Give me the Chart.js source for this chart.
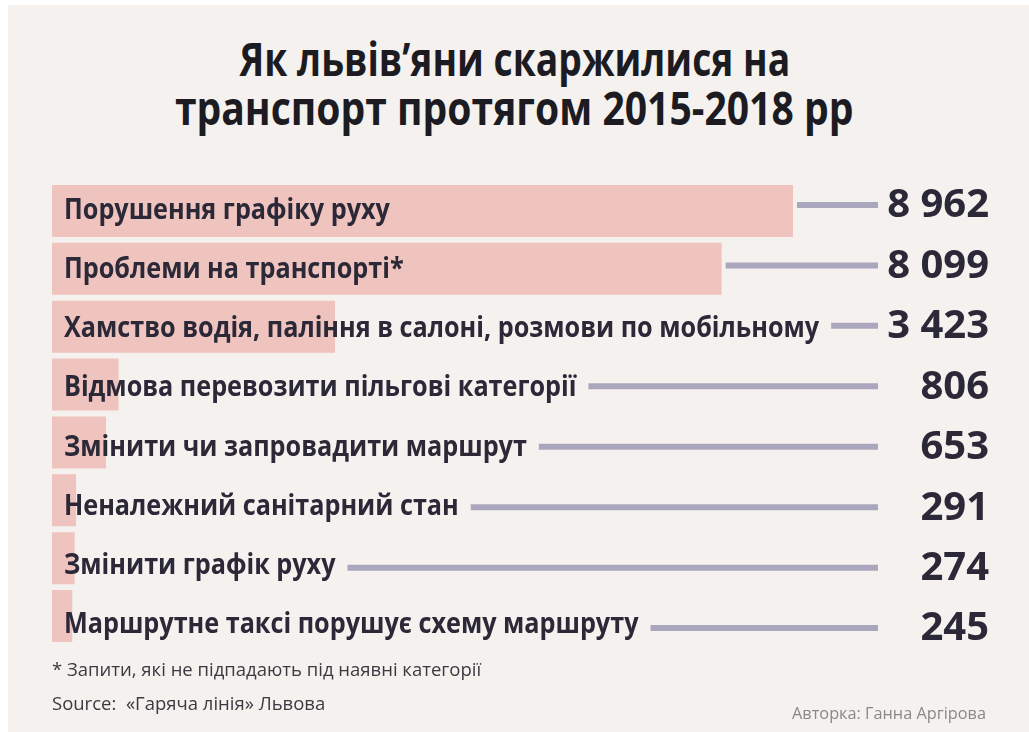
<!DOCTYPE html>
<html lang="uk">
<head>
<meta charset="utf-8">
<title>Скарги львів'ян на транспорт</title>
<script src="https://cdn.jsdelivr.net/npm/chart.js@4.4.1/dist/chart.umd.min.js"></script>
<style>
  html, body { margin: 0; padding: 0; background: #fff; }
  body {
    width: 1029px; height: 732px; position: relative; overflow: hidden;
    font-family: "Open Sans", sans-serif; color: #2b2838;
  }
  .panel { position: absolute; left: 8px; top: 5px; right: 0; bottom: 0; background: #f4f1ee; }
  .title { position: absolute; left: 0; width: 1029px; text-align: center; }
  .title span {
    display: inline-block; font-weight: 700; font-size: 46px; line-height: 1;
    color: #1c1b22; transform-origin: center; white-space: nowrap;
  }
  .note { position: absolute; left: 52px; font-size: 18.5px; color: #3b3a40; white-space: nowrap; }
  .author { position: absolute; right: 43px; top: 702px; font-size: 16.3px; color: #8a8888; }
  canvas { position: absolute; left: 0; top: 0; }
</style>
</head>
<body>
<div class="panel"></div>
<div class="title" style="top:35px"><span style="transform:scaleX(0.81)">Як львів’яни скаржилися на</span></div>
<div class="title" style="top:84px"><span style="transform:scaleX(0.85)">транспорт протягом 2015-2018 рр</span></div>
<canvas id="complaintsChart" width="1029" height="732"></canvas>
<div class="note" style="top:656px">* Запити, які не підпадають під наявні категорії</div>
<div class="note" style="top:690px">Source:&nbsp; «Гаряча лінія» Львова</div>
<div class="author">Авторка: Ганна Аргірова</div>

<script>
// Категорії скарг і кількість звернень за 2015-2018
const categories = [
  'Порушення графіку руху',
  'Проблеми на транспорті*',
  'Хамство водія, паління в салоні, розмови по мобільному',
  'Відмова перевозити пільгові категорії',
  'Змінити чи запровадити маршрут',
  'Неналежний санітарний стан',
  'Змінити графік руху',
  'Маршрутне таксі порушує схему маршруту'
];
const counts = [8962, 8099, 3423, 806, 653, 291, 274, 245];

const BAR_COLOR = '#efc3be';
const LINE_COLOR = '#aaa6bd';
const TEXT_COLOR = '#2b2838';

// 8962 -> "8 962"
function formatCount(v) {
  return String(v).replace(/\B(?=(\d{3})+(?!\d))/g, ' ');
}

// Підписи в смугах, сполучні лінії та числа праворуч
const rowDecor = {
  id: 'rowDecor',
  afterDatasetsDraw(chart) {
    const { ctx, scales: { x, y, yv } } = chart;
    const labelX = 64, labelScale = 0.9;
    const lineEnd = 878, valueRight = 989;

    ctx.save();
    ctx.fillStyle = TEXT_COLOR;
    ctx.textBaseline = 'middle';

    categories.forEach((label, i) => {
      const yBar = y.getPixelForValue(i);
      const yRow = yv.getPixelForValue(i);

      ctx.font = 'bold 28px "Open Sans"';
      ctx.textAlign = 'left';
      ctx.save();
      ctx.translate(labelX, (yBar + yRow) / 2 + 3);
      ctx.scale(labelScale, 1);
      ctx.fillText(label, 0, 0);
      ctx.restore();
      const labelEnd = labelX + ctx.measureText(label).width * labelScale;
      const barEnd = x.getPixelForValue(counts[i]);

      const lineStart = Math.max(labelEnd + 12, barEnd + 4);
      ctx.strokeStyle = LINE_COLOR;
      ctx.lineWidth = 6;
      ctx.beginPath();
      ctx.moveTo(lineStart, yRow);
      ctx.lineTo(lineEnd, yRow);
      ctx.stroke();

      ctx.font = 'bold 40px "Open Sans"';
      ctx.textAlign = 'right';
      ctx.fillText(formatCount(counts[i]), valueRight, yRow + 1);
    });
    ctx.restore();
  }
};

function draw() {
  new Chart(document.getElementById('complaintsChart'), {
    type: 'bar',
    data: {
      labels: categories,
      datasets: [{
        data: counts,
        backgroundColor: BAR_COLOR,
        borderWidth: 0,
        barPercentage: 0.9,
        categoryPercentage: 1.0
      }]
    },
    options: {
      indexAxis: 'y',
      responsive: false,
      animation: false,
      layout: { padding: { left: 52, right: 236, top: 182, bottom: 87 } },
      scales: {
        x: { min: 0, max: Math.max(...counts), display: false },
        y: { type: 'category', offset: true, display: false },
        // допоміжна вісь для рядків з числами (крок трохи більший за смуги)
        yv: {
          type: 'linear', axis: 'y', reverse: true, offset: false,
          min: -0.38, max: 7.28, display: false
        }
      },
      plugins: { legend: { display: false }, tooltip: { enabled: false }, title: { display: false } }
    },
    plugins: [rowDecor]
  });
}

if (document.fonts && document.fonts.ready) document.fonts.ready.then(draw);
else draw();
</script>
</body>
</html>
